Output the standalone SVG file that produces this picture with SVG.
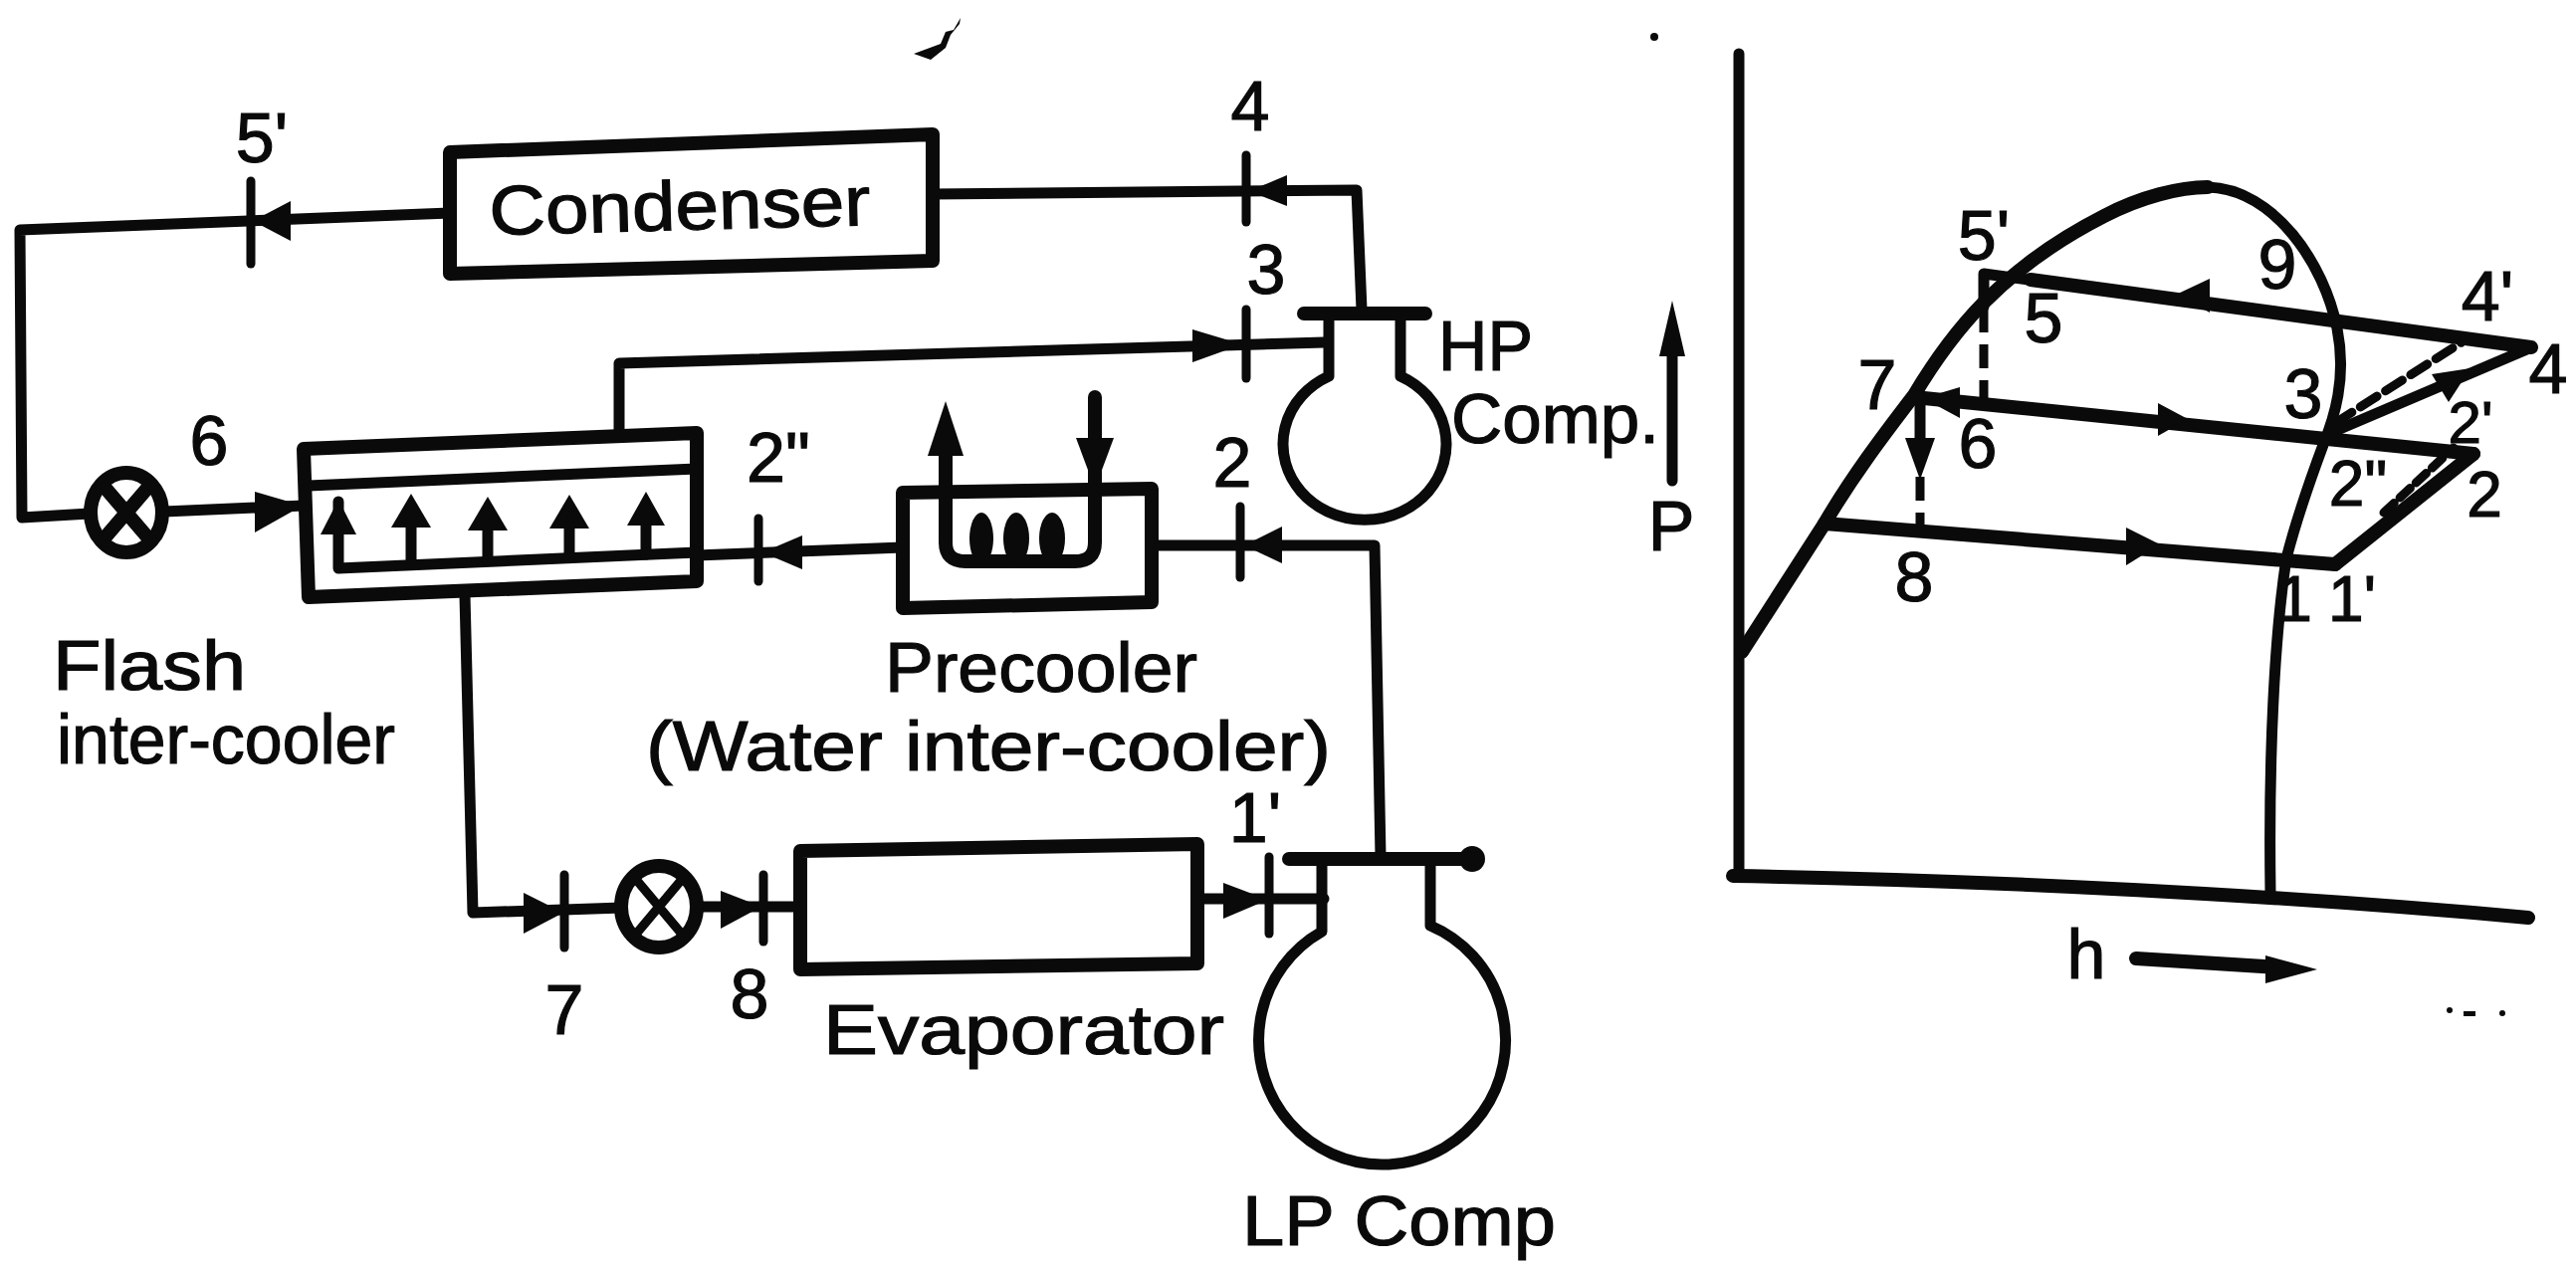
<svg xmlns="http://www.w3.org/2000/svg" width="2588" height="1275" viewBox="0 0 2588 1275">
<style>
text{font-family:"Liberation Sans",Arial,sans-serif;fill:#0a0a0a;stroke:#0a0a0a;stroke-width:1.2px;font-size:70px}
.m{text-anchor:middle}
.l{fill:none;stroke:#0a0a0a;stroke-width:11;stroke-linejoin:round;stroke-linecap:round}
.t{fill:none;stroke:#0a0a0a;stroke-width:9;stroke-linecap:round}
.b{fill:#fff;stroke:#0a0a0a;stroke-width:14;stroke-linejoin:round}
.h{fill:#0a0a0a;stroke:none}
.k{fill:none;stroke:#0a0a0a;stroke-width:14;stroke-linecap:round;stroke-linejoin:round}
.d{fill:none;stroke:#0a0a0a;stroke-width:9;stroke-dasharray:24 12}
</style>
<rect width="2588" height="1275" fill="#fff"/>
<g id="connectors">
<path class="l" d="M452 214L20 231L22 520L90 516"/>
<path class="l" d="M165 514L305 508"/>
<polygon class="h" points="304,508 256,494 256,535"/>
<path class="l" d="M622 435V365L1330 344"/>
<polygon class="h" points="1248,346 1198,331 1198,364"/>
<path class="t" d="M1252 311V380"/>
<path class="l" d="M937 195L1363 191L1368 311"/>
<polygon class="h" points="1255,192 1293,176 1293,207"/>
<path class="t" d="M252 182V265"/>
<path class="t" d="M1252 156V223"/>
<polygon class="h" points="254,222 292,202 292,242"/>
<path class="l" d="M700 558L907 550"/>
<polygon class="h" points="766,555 806,538 806,572"/>
<path class="t" d="M762 521V584"/>
<path class="l" d="M1157 548H1381L1387 860"/>
<polygon class="h" points="1250,548 1288,529 1288,566"/>
<path class="t" d="M1246 509V580"/>
<path class="l" d="M467 598L475 917L625 912"/>
<polygon class="h" points="566,917 526,897 526,938"/>
<path class="t" d="M567 879V952"/>
<path class="l" d="M702 911H804"/>
<polygon class="h" points="765,911 724,895 724,933"/>
<path class="t" d="M767 879V946"/>
<path class="l" d="M1203 903H1330"/>
<polygon class="h" points="1274,904 1229,887 1229,923"/>
<path class="t" d="M1275 861V938"/>
</g>
<g id="condenser"><path class="b" d="M452 153L937 135V262L452 275Z"/><text x="492" y="236" textLength="383" lengthAdjust="spacingAndGlyphs" transform="rotate(-1.5 492 236)">Condenser</text></g>
<g id="expansion-valve-6"><ellipse class="b" cx="127" cy="515" rx="36" ry="40"/><path class="k" d="M103 487L151 543M151 487L103 543"/></g>
<g id="flash-intercooler">
<path class="b" d="M305 451L700 435V584L310 600Z"/>
<path class="l" d="M310 488L700 471"/>
<path class="l" d="M340 504V571L700 555"/>
<g class="h"><polygon points="340,502 322,537 358,537"/><polygon points="413,496 393,530 433,530"/><polygon points="490,499 470,533 510,533"/><polygon points="572,497 552,531 592,531"/><polygon points="649,494 630,528 668,528"/></g>
<path class="l" d="M413 525V566M490 528V563M572 526V560M649 523V557"/>
<text x="53" y="693" textLength="194" lengthAdjust="spacingAndGlyphs">Flash</text>
<text x="57" y="767" textLength="340" lengthAdjust="spacingAndGlyphs">inter-cooler</text>
</g>
<g id="precooler">
<path class="b" d="M907 495L1157 491V605L907 611Z"/>
<path class="k" d="M950 445V545Q950 564 970 564H1080Q1100 564 1100 545V399"/>
<polygon class="h" points="950,403 932,458 968,458"/>
<polygon class="h" points="1100,491 1081,440 1119,440"/>
<g class="h"><ellipse cx="986" cy="541" rx="12" ry="26"/><ellipse cx="1021" cy="541" rx="13" ry="26"/><ellipse cx="1057" cy="541" rx="13" ry="26"/></g>
<text x="889" y="695" textLength="314" lengthAdjust="spacingAndGlyphs">Precooler</text>
<text x="649" y="774" textLength="688" lengthAdjust="spacingAndGlyphs">(Water inter-cooler)</text>
</g>
<g id="hp-compressor">
<path class="l" d="M1335 315V378A82 76 0 1 0 1407 378V315"/>
<path class="k" d="M1310 315H1432"/>
<text x="1445" y="372" textLength="95" lengthAdjust="spacingAndGlyphs">HP</text>
<text x="1458" y="445" textLength="209" lengthAdjust="spacingAndGlyphs">Comp.</text>
</g>
<g id="expansion-valve-8"><ellipse class="b" cx="662" cy="911" rx="38" ry="41"/><path class="t" d="M636 880L688 942M688 880L636 942"/></g>
<g id="evaporator"><path class="b" d="M804 855L1203 848V968L804 974Z"/><text x="827" y="1059" textLength="403" lengthAdjust="spacingAndGlyphs">Evaporator</text></g>
<g id="lp-compressor">
<path class="l" d="M1328 863V936A124 125 0 1 0 1437 930V863"/>
<path class="k" d="M1295 863H1479"/>
<circle class="h" cx="1479" cy="863" r="13"/>
<text x="1248" y="1251" textLength="315" lengthAdjust="spacingAndGlyphs">LP Comp</text>
</g>
<g id="labels">
<text class="m" x="263" y="163">5'</text>
<text class="m" x="210" y="467">6</text>
<text class="m" x="1256" y="131">4</text>
<text class="m" x="1272" y="295">3</text>
<text class="m" x="782" y="484">2"</text>
<text class="m" x="1238" y="489">2</text>
<text class="m" x="1261" y="846">1'</text>
<text class="m" x="567" y="1039">7</text>
<text class="m" x="753" y="1023">8</text>
</g>
<g id="ph-chart">
<path class="l" d="M1747 54V880"/>
<path class="k" d="M1741 880C2000 884 2300 900 2540 922"/>
<path class="k" d="M1750 655L1833 526C1860 480 1890 440 1923 397C1960 335 2010 270 2114 217C2150 198 2190 188 2218 188"/>
<path class="l" d="M2218 188C2285 190 2335 265 2348 330C2358 380 2345 420 2334 447C2318 490 2305 530 2297 561C2285 640 2279 760 2281 896"/>
<path class="l" d="M1993 308V275L2060 284"/>
<path class="k" d="M2040 281L2543 349"/>
<path class="d" d="M1993 310V402"/>
<polygon class="h" points="2186,296 2220,280 2220,314"/>
<path class="k" d="M1923 399L2485 456"/>
<polygon class="h" points="1932,400 1969,389 1969,420"/>
<polygon class="h" points="2198,421 2168,405 2168,438"/>
<path class="l" d="M2346 433L2543 349"/>
<polygon class="h" points="2482,370 2443,376 2460,404"/>
<path class="t" stroke-dasharray="20 10" d="M2346 425L2473 344"/>
<path class="k" d="M1833 526L2346 567"/>
<polygon class="h" points="2170,547 2136,530 2136,568"/>
<path class="k" d="M2346 567L2485 456"/>
<path class="t" stroke-dasharray="14 8" d="M2395 515L2465 450"/>
<path class="l" d="M1929 399V442"/>
<polygon class="h" points="1929,482 1914,440 1944,440"/>
<path class="d" d="M1929 479V529"/>
<path class="l" d="M1680 483V350"/>
<polygon class="h" points="1680,302 1667,358 1693,358"/>
<path class="k" d="M2146 963L2290 972"/>
<polygon class="h" points="2328,974 2276,960 2276,988"/>
<text class="m" x="1993" y="261">5'</text>
<text class="m" x="2053" y="344">5</text>
<text class="m" x="2288" y="290">9</text>
<text class="m" x="2499" y="322">4'</text>
<text class="m" x="2560" y="395">4</text>
<text class="m" x="1886" y="411">7</text>
<text class="m" x="2314" y="420">3</text>
<text class="m" x="1987" y="470">6</text>
<text class="m" x="2482" y="445" style="font-size:60px">2'</text>
<text class="m" x="2369" y="508" style="font-size:64px">2"</text>
<text class="m" x="2496" y="519" style="font-size:64px">2</text>
<text class="m" x="1923" y="604">8</text>
<text class="m" x="2305" y="624" style="font-size:64px">1</text>
<text class="m" x="2363" y="624" style="font-size:64px">1'</text>
<text class="m" x="1679" y="553">P</text>
<text class="m" x="2096" y="983">h</text>
</g>
<g id="specks">
<path class="h" d="M918 54L945 44L950 32L958 30L965 18L964 24L955 35L950 48L935 60Z"/>
<circle class="h" cx="1662" cy="37" r="4"/>
<circle class="h" cx="2461" cy="1015" r="3"/><rect class="h" x="2475" y="1016" width="12" height="5"/><circle class="h" cx="2514" cy="1018" r="3"/>
</g>
</svg>
